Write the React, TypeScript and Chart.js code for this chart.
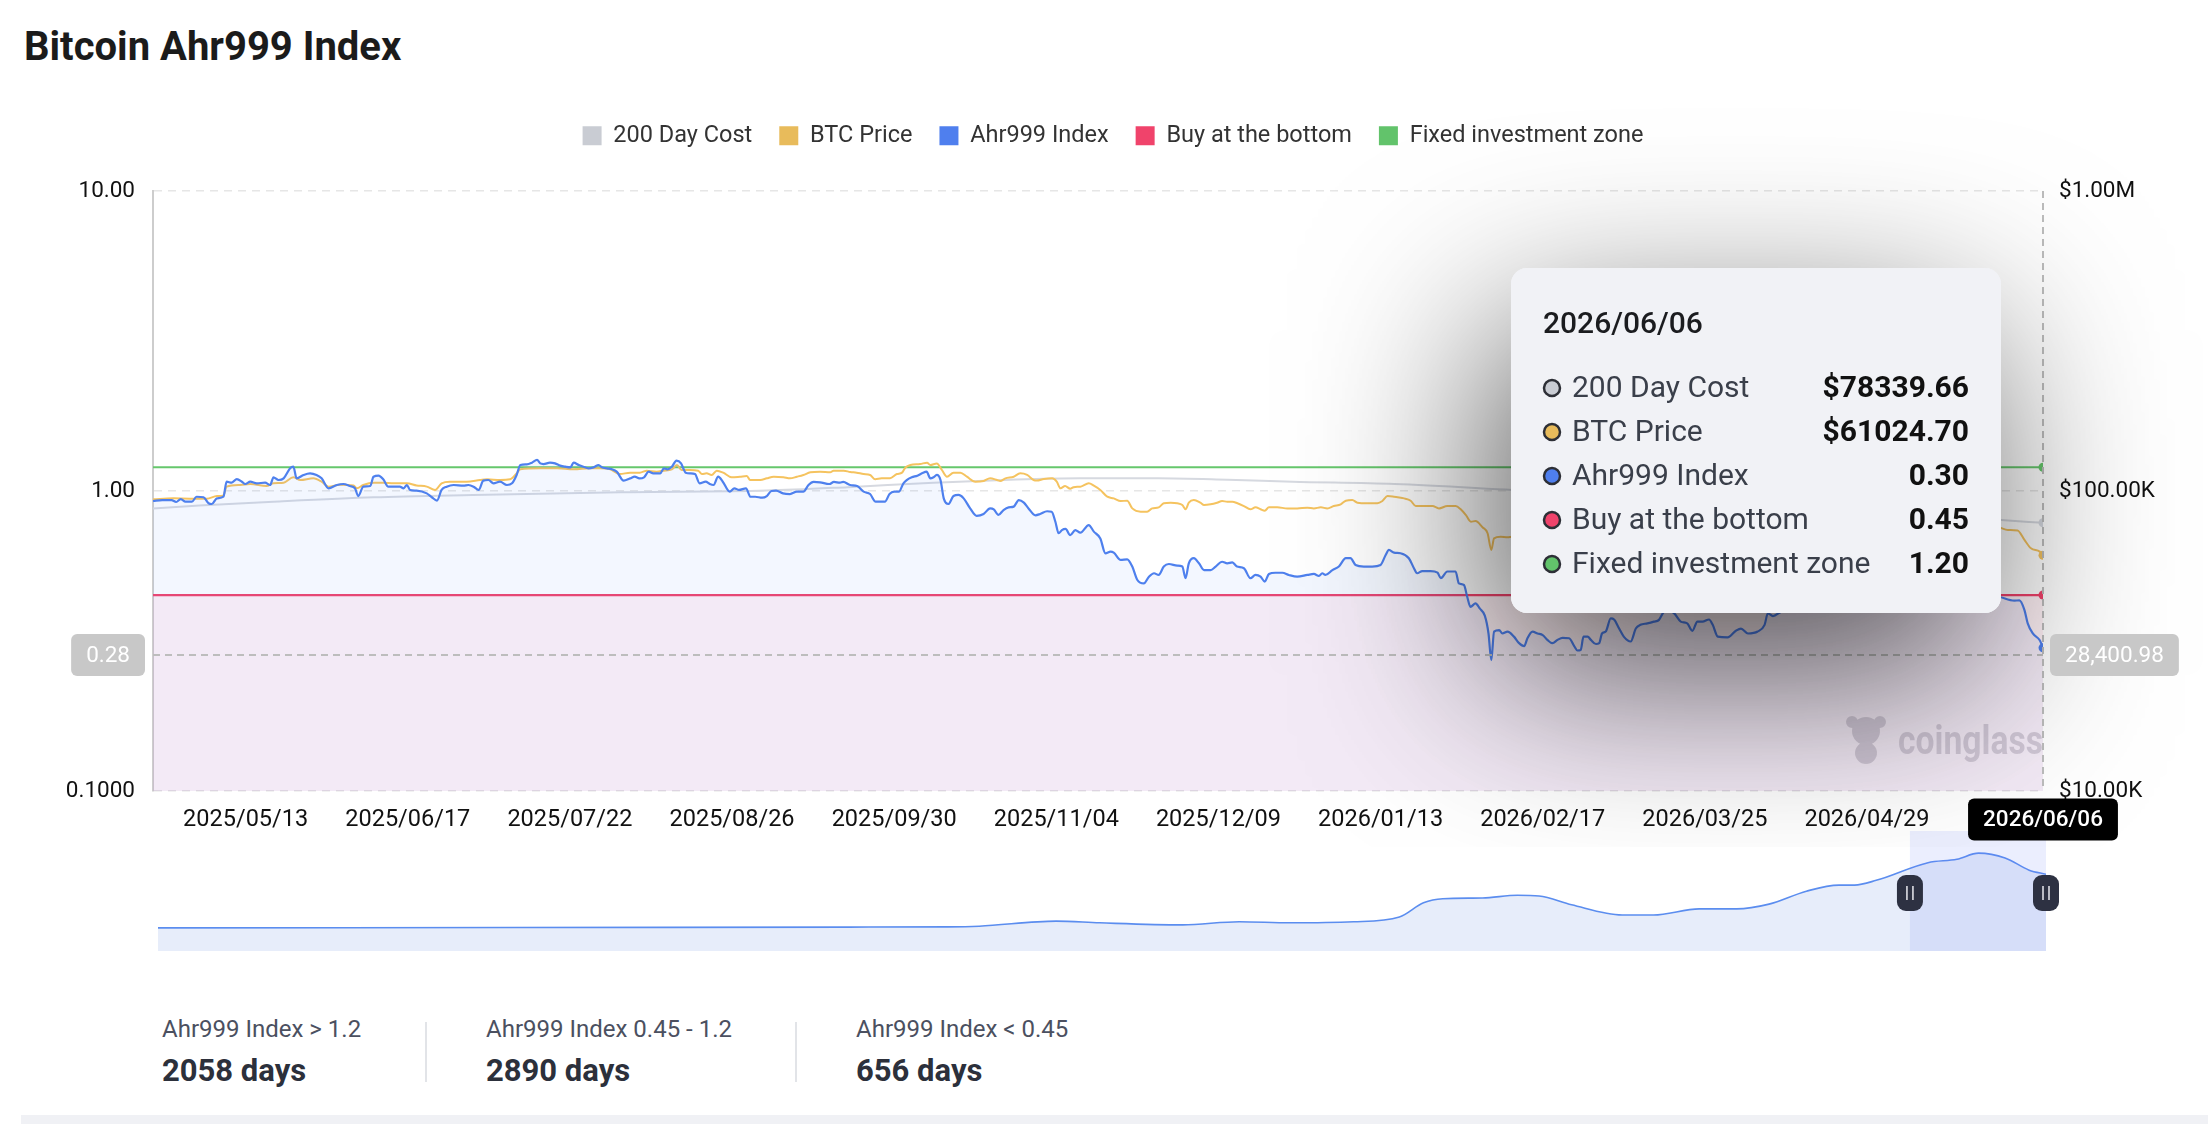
import React, { useEffect, useRef } from 'react';
import { Chart, registerables } from 'chart.js';

Chart.register(...registerables);

const FONT = 'Roboto, "Noto Sans", "DejaVu Sans", sans-serif';

const TITLE = 'Bitcoin Ahr999 Index';
const SERIES_NAMES = ['200 Day Cost', 'BTC Price', 'Ahr999 Index', 'Buy at the bottom', 'Fixed investment zone'];
const SERIES_COLORS = ['#c9ccd3', '#e8bb5b', '#4f7fee', '#f0436b', '#62c36b'];
const LINE_COLORS = ['#d6d9e0', '#f5c35f', '#4e80ee', '#f2426b', '#66c76c'];

// x values are day offsets from 2025/04/23
const LAST_DAY = 408;
const LAST_DATE = '2026/06/06';
const X_TICK_DAYS = [20, 55, 90, 125, 160, 195, 230, 265, 300, 335, 370];
const X_TICK_LABELS = ['2025/05/13', '2025/06/17', '2025/07/22', '2025/08/26', '2025/09/30', '2025/11/04', '2025/12/09', '2026/01/13', '2026/02/17', '2026/03/25', '2026/04/29'];
const LEFT_TICKS = [0.1, 1, 10];
const LEFT_TICK_LABELS = ['0.1000', '1.00', '10.00'];
const RIGHT_TICKS = [10000, 100000, 1000000];
const RIGHT_TICK_LABELS = ['$10.00K', '$100.00K', '$1.00M'];

const LEVEL_DAYS = [0, 408];
const BUY_LEVEL = [0.45, 0.45];
const FIXED_LEVEL = [1.2, 1.2];

const CROSS_VALUE = 0.2840098;
const WATERMARK = 'coinglass';

const AHR_POINTS: [number, number][] = [
  [0, 0.926], [2, 0.933], [4, 0.933], [5, 0.919], [6, 0.94], [7, 0.921], [8.4, 0.921], [9.4, 0.957], [10.9, 0.953], [12, 0.91],
  [12.7, 0.905], [13.8, 0.945], [15.2, 0.957], [15.9, 1.074], [17, 1.066], [18.1, 1.096], [19.2, 1.074], [19.9, 1.055], [21, 1.074], [22.4, 1.061],
  [24.2, 1.066], [25.3, 1.047], [26, 1.111], [27.1, 1.088], [28.2, 1.102], [29.6, 1.19], [30.3, 1.205], [31, 1.102], [32.5, 1.131], [33.9, 1.145],
  [35.3, 1.131], [36.4, 1.102], [37.9, 1.021], [39.7, 1.047], [41.1, 1.055], [42.5, 1.039], [43.6, 1.021], [44.3, 0.962], [45.4, 1.034], [46.9, 1.039],
  [47.6, 1.116], [48.7, 1.125], [49.7, 1.094], [50.8, 1.034], [51.9, 1.034], [53.3, 1.034], [54.1, 1.021], [54.8, 1.047], [55.5, 1.008], [56.9, 1.003],
  [59.1, 0.982], [60.2, 0.953], [61.3, 0.929], [62.3, 1.008], [63.4, 1.034], [64.9, 1.047], [67, 1.042], [68.1, 1.047], [69.2, 1.034], [70.3, 1.008],
  [71.3, 1.083], [72.4, 1.088], [73.5, 1.061], [74.9, 1.074], [76.4, 1.047], [77.5, 1.061], [78.5, 1.131], [79.3, 1.221], [80.7, 1.227], [81.8, 1.243],
  [82.9, 1.269], [83.6, 1.236], [84.3, 1.23], [85.7, 1.243], [86.8, 1.236], [87.9, 1.215], [89, 1.205], [90.1, 1.199], [90.8, 1.243], [91.9, 1.221],
  [92.9, 1.205], [94, 1.19], [95.1, 1.199], [96.2, 1.221], [96.9, 1.199], [98, 1.19], [99.1, 1.181], [100.1, 1.16], [101.6, 1.083], [103, 1.102],
  [104, 1.116], [105, 1.102], [106, 1.111], [107, 1.16], [108, 1.145], [109.5, 1.145], [110.3, 1.19], [111, 1.181], [112, 1.205], [113, 1.262],
  [114, 1.236], [115, 1.151], [116, 1.145], [117, 1.139], [118, 1.061], [119.3, 1.074], [120.2, 1.055], [121, 1.047], [122, 1.116], [123, 1.074],
  [124.5, 0.995], [125.5, 1.021], [126.5, 1.008], [128, 1.021], [129, 0.957], [130, 0.957], [131.5, 0.95], [132.5, 0.962], [133.5, 1.0], [134.5, 1.003],
  [136, 0.982], [137.5, 0.977], [139, 0.995], [140.4, 0.995], [141.5, 1.047], [142.6, 1.072], [144, 1.069], [146, 1.055], [147, 1.072], [148.3, 1.066],
  [149, 1.072], [150.5, 1.047], [152, 1.039], [153.4, 0.995], [154.8, 0.977], [156, 0.921], [157, 0.921], [158, 0.921], [159, 0.977], [160, 0.995],
  [161, 0.995], [162, 1.061], [162.7, 1.088], [163.8, 1.111], [165, 1.125], [166, 1.145], [167, 1.16], [167.8, 1.102], [168.5, 1.111], [169.2, 1.131],
  [170, 1.088], [170.7, 0.945], [171.7, 0.905], [172.8, 0.962], [173.9, 0.97], [175, 0.945], [176.4, 0.875], [177.8, 0.826], [179.3, 0.838], [180.7, 0.875],
  [181.5, 0.869], [182.5, 0.832], [183.6, 0.864], [184.7, 0.882], [185.8, 0.887], [186.9, 0.933], [188, 0.915], [189, 0.875], [190.5, 0.83], [191.5, 0.838],
  [193, 0.856], [194, 0.853], [194.8, 0.79], [195.5, 0.723], [196.2, 0.741], [197, 0.748], [198, 0.713], [199.1, 0.741], [200.2, 0.726], [202, 0.77],
  [203.1, 0.732], [204.5, 0.695], [205.6, 0.62], [206.7, 0.628], [207.4, 0.623], [208.9, 0.589], [210.3, 0.592], [211.4, 0.56], [212.5, 0.505], [213.9, 0.492],
  [215, 0.518], [216.1, 0.532], [217.1, 0.525], [218.2, 0.56], [219.3, 0.571], [221.1, 0.564], [222.2, 0.56], [222.9, 0.512], [223.6, 0.574], [224.7, 0.597],
  [225.8, 0.574], [226.9, 0.545], [228.3, 0.545], [229.4, 0.56], [230.8, 0.581], [231.9, 0.574], [233, 0.578], [234, 0.56], [235.5, 0.553], [236.9, 0.512],
  [238, 0.525], [239.1, 0.518], [240, 0.499], [240.9, 0.529], [242.3, 0.534], [243.8, 0.534], [245.2, 0.525], [247, 0.518], [249.2, 0.525], [250.6, 0.529],
  [251.7, 0.521], [252.4, 0.532], [253.1, 0.525], [254.6, 0.545], [256, 0.56], [257.5, 0.597], [258.5, 0.597], [259.6, 0.567], [261.4, 0.56], [263.2, 0.56],
  [265, 0.567], [266.1, 0.612], [266.8, 0.636], [267.9, 0.623], [269.3, 0.62], [271.1, 0.597], [272.2, 0.553], [272.9, 0.532], [274, 0.541], [275.8, 0.541],
  [277.3, 0.534], [278, 0.512], [279.4, 0.539], [281.2, 0.539], [281.9, 0.492], [283, 0.486], [283.7, 0.444], [284.4, 0.411], [285.5, 0.422], [286.4, 0.406],
  [287.5, 0.384], [288.3, 0.335], [288.9, 0.273], [289.5, 0.34], [290.6, 0.344], [291.3, 0.335], [292.4, 0.34], [293.8, 0.327], [294.9, 0.311], [296, 0.304],
  [296.7, 0.323], [297.8, 0.34], [298.9, 0.335], [300, 0.331], [301, 0.319], [302.1, 0.311], [303.2, 0.319], [304.3, 0.324], [305.7, 0.323], [306.8, 0.304],
  [307.5, 0.294], [308.2, 0.295], [308.8, 0.327], [309.7, 0.327], [310.4, 0.319], [311.5, 0.309], [312.2, 0.311], [312.8, 0.335], [313.6, 0.34], [314.7, 0.376],
  [315.4, 0.373], [316.5, 0.348], [317.5, 0.327], [319, 0.315], [320.1, 0.348], [321.1, 0.358], [322.6, 0.362], [324, 0.367], [325.1, 0.372], [326.2, 0.396],
  [327.3, 0.4], [328.4, 0.391], [329.8, 0.367], [331.2, 0.362], [332.3, 0.342], [333.4, 0.367], [334.5, 0.367], [335.9, 0.373], [336.7, 0.358], [337.8, 0.327],
  [339.9, 0.325], [341.7, 0.342], [342.8, 0.348], [344.3, 0.335], [346.4, 0.34], [347.9, 0.358], [348.6, 0.391], [349.7, 0.383], [351.5, 0.396], [355, 0.41],
  [358, 0.43], [361, 0.42], [364, 0.44], [367, 0.43], [370, 0.45], [373, 0.47], [376, 0.46], [379, 0.48], [382, 0.47], [385, 0.49],
  [388, 0.47], [391, 0.46], [394, 0.47], [396, 0.45], [398.5, 0.444], [401.8, 0.431], [402.9, 0.432], [404, 0.401], [404.7, 0.362], [405.8, 0.335],
  [407.3, 0.318], [408, 0.30],
];

const BTC_POINTS: [number, number][] = [
  [0, 93800], [4.4, 94500], [8, 94300], [11.6, 94300], [13.8, 96200], [15.2, 96700], [15.9, 103400], [18.8, 104700], [21, 105500], [24.5, 103900],
  [26, 106100], [28.2, 106600], [30.3, 111100], [31.8, 108800], [34.6, 110200], [36.4, 107400], [37.9, 103400], [40.4, 105000], [43.3, 104400], [44, 102100],
  [45.4, 104700], [47.6, 106600], [49.7, 106600], [51.9, 106100], [54.8, 106100], [56.9, 104400], [59.1, 103400], [60.9, 100800], [62.3, 106100], [64.1, 107400],
  [67.7, 107400], [70.6, 108800], [72.1, 109400], [74.9, 108800], [77.1, 109400], [78.5, 114500], [79.3, 118100], [83.6, 119000], [87.2, 119000], [90.8, 118100],
  [94.4, 119000], [96.5, 119000], [98.7, 118100], [100.8, 113900], [103, 115100], [105.1, 115100], [106.6, 116900], [108.7, 116000], [110.2, 116900], [112, 118100],
  [113.1, 122100], [114.1, 117500], [115.9, 117500], [117.7, 116900], [118.5, 113900], [119.5, 114500], [120.6, 113100], [121.7, 116900], [123.1, 115100], [124.9, 111100],
  [126.7, 111600], [128.2, 112200], [128.9, 108800], [131.1, 108800], [132.5, 110200], [134, 111600], [136.1, 111100], [137.5, 110200], [139, 111600], [140.4, 113100],
  [141.9, 115400], [144, 116000], [146.2, 115400], [146.9, 116900], [149.1, 116900], [150.5, 115700], [151.9, 115100], [153.4, 113900], [154.8, 113100], [155.9, 109400],
  [157.3, 110200], [159.1, 110200], [160.6, 113900], [161.7, 115100], [162.4, 119600], [163.5, 122100], [165.6, 123000], [167.1, 124300], [167.8, 122100], [169.2, 123600],
  [170.3, 117500], [171.4, 111600], [172.8, 115100], [174.3, 115100], [175.7, 111600], [177.5, 107400], [179.3, 108000], [180.7, 110200], [182.2, 108800], [182.9, 108000],
  [184, 110200], [185.8, 111600], [187.2, 114500], [188.7, 113100], [190.1, 108800], [190.8, 108300], [192.3, 109600], [194.1, 110200], [195.1, 107400], [195.9, 102100],
  [196.9, 103900], [198, 101800], [198.7, 102900], [199.5, 103400], [200.2, 103400], [202, 106100], [203.1, 104200], [204.5, 100800], [206, 95700], [207.4, 94500],
  [208.9, 92600], [210.3, 92800], [211.4, 87500], [213.2, 85300], [214.6, 85300], [215.7, 87500], [217.1, 88200], [218.2, 91000], [219.7, 91400], [221.1, 91000],
  [222.2, 89800], [222.9, 86900], [223.6, 91400], [224.7, 93300], [226.1, 91400], [226.9, 89800], [228.3, 90300], [229.7, 91400], [230.8, 92600], [231.9, 92100],
  [233, 92100], [234.1, 91000], [235.5, 89100], [236.9, 86900], [238, 88200], [239.1, 86900], [240, 86000], [240.9, 88200], [242.7, 88200], [244.9, 87500],
  [247, 87500], [249.2, 88000], [250.6, 87500], [252.1, 88200], [253.5, 87500], [254.9, 89100], [256.4, 90300], [257.5, 92800], [258.9, 93300], [260, 91400],
  [262.1, 91000], [264.3, 91000], [265.4, 92600], [266.5, 96200], [267.9, 95700], [270.1, 94500], [271.5, 92800], [272.6, 89100], [274.4, 89100], [276.2, 89100],
  [277.6, 87500], [279.4, 89100], [281.2, 89100], [282.3, 86900], [283.4, 83200], [284.5, 79000], [285.5, 79400], [287, 75700], [288.1, 72300], [288.9, 63600],
  [289.5, 69500], [290.9, 70400], [292.4, 70100], [293.5, 70400], [297, 69000], [300, 71400], [304, 70500], [308, 68000], [312, 70000], [315, 75000],
  [319, 68400], [325, 73800], [328, 75500], [333, 70200], [338, 68300], [343, 70100], [349, 73600], [355, 74900], [360, 76300], [365, 74900],
  [370, 77300], [375, 78400], [380, 77000], [385, 78200], [390, 76900], [395, 75700], [398.2, 75700], [400.4, 74100], [402.5, 73900], [404, 68700],
  [405.4, 64400], [407.3, 62800], [408, 61024.70],
];

const COST_POINTS: [number, number][] = [
  [0, 87500], [10, 89400], [26, 92100], [47.6, 95300], [69, 97000], [101, 99000], [132.5, 100300], [150, 103000], [168.5, 106600], [185, 109000],
  [200, 110200], [217, 110200], [232, 109000], [246, 107400], [268, 105500], [293.5, 100800], [320, 96000], [350, 90000], [380, 84000], [399, 80000],
  [408, 78339.66],
];

// navigator (full history, x = year, y = BTC price in $K)
const NAV_POINTS: [number, number][] = [
  [2010.76, 0.1], [2013.72, 0.5], [2016.5, 1.2], [2017.32, 1.5], [2017.58, 2.5], [2018.22, 10], [2018.58, 7.5], [2019.27, 4.5], [2019.74, 9], [2020.16, 7.5],
  [2020.69, 9], [2021.07, 16], [2021.27, 37], [2021.43, 43], [2021.76, 44], [2022.05, 48], [2022.23, 47], [2022.5, 34], [2022.92, 19], [2023.18, 19],
  [2023.56, 28], [2023.87, 28], [2024.14, 35], [2024.45, 54], [2024.72, 63], [2024.85, 63], [2025.03, 70], [2025.46, 96], [2025.7, 101], [2025.88, 110],
  [2026.1, 103], [2026.3, 85], [2026.44, 79],
];
const NAV_WINDOW = [2025.31, 2026.44];

const STAT_LABELS = ['Ahr999 Index > 1.2', 'Ahr999 Index 0.45 - 1.2', 'Ahr999 Index < 0.45'];
const STAT_DAYS = [2058, 2890, 656];

const toXY = (pts: [number, number][]) => pts.map(([x, y]) => ({ x, y }));

function lastDot(n: number) {
  return (ctx: any) => (ctx.dataIndex === n - 1 ? 4.5 : 0);
}

const legendSpacer = {
  id: 'legendSpacer',
  beforeInit(chart: any) {
    const orig = chart.legend.fit;
    chart.legend.fit = function fit() {
      orig.call(this);
      this.height += 33.5;
    };
  },
};

const overlayPlugin = {
  id: 'ahrOverlay',
  beforeDatasetsDraw(chart: any) {
    const { ctx, chartArea: a } = chart;
    ctx.save();
    ctx.fillStyle = 'rgba(120,120,125,0.30)';
    ctx.font = `700 40px ${FONT}`;
    ctx.textAlign = 'right';
    ctx.textBaseline = 'middle';
    ctx.fillText(WATERMARK, a.right, a.bottom - 47, 145);
    const cx = a.right - 177;
    const cy = a.bottom - 60;
    ctx.beginPath();
    const circ = (x: number, y: number, r: number) => {
      ctx.moveTo(x + r, y);
      ctx.arc(x, y, r, 0, Math.PI * 2);
    };
    circ(cx, cy, 14);
    circ(cx - 14, cy - 9, 6);
    circ(cx + 14, cy - 9, 6);
    circ(cx, cy + 22, 11);
    ctx.fill();
    ctx.restore();
  },
  afterDatasetsDraw(chart: any) {
    const { ctx, chartArea: a, scales } = chart;
    const x = scales.x.getPixelForValue(LAST_DAY);
    const y = scales.y.getPixelForValue(CROSS_VALUE);
    ctx.save();
    ctx.strokeStyle = '#bdbdbd';
    ctx.lineWidth = 2;
    ctx.setLineDash([7, 5]);
    ctx.beginPath();
    ctx.moveTo(x, a.top);
    ctx.lineTo(x, a.bottom);
    ctx.stroke();
    ctx.beginPath();
    ctx.moveTo(a.left, y);
    ctx.lineTo(x, y);
    ctx.stroke();
    ctx.restore();
  },
  afterDraw(chart: any) {
    const { ctx, chartArea: a, scales } = chart;
    const x = scales.x.getPixelForValue(LAST_DAY);
    const y = scales.y.getPixelForValue(CROSS_VALUE);

    // tooltip
    const boxW = 490;
    const boxH = 345;
    const bx = x - 42 - boxW;
    const by = a.top + 77;
    ctx.save();
    ctx.shadowColor = 'rgba(0,0,0,0.66)';
    ctx.shadowBlur = 185;
    ctx.shadowOffsetX = -20;
    ctx.shadowOffsetY = 62;
    ctx.fillStyle = '#f1f2f6';
    ctx.beginPath();
    ctx.roundRect(bx, by, boxW, boxH, 16);
    ctx.fill();
    ctx.restore();
    ctx.save();
    ctx.fillStyle = '#f1f2f6';
    ctx.beginPath();
    ctx.roundRect(bx, by, boxW, boxH, 16);
    ctx.fill();
    ctx.textBaseline = 'middle';
    ctx.textAlign = 'left';
    ctx.fillStyle = '#1b1c1f';
    ctx.font = `500 30px ${FONT}`;
    ctx.fillText(LAST_DATE, bx + 32, by + 57);
    const ds = chart.data.datasets;
    ds.forEach((d: any, i: number) => {
      const v = d.data[d.data.length - 1].y;
      const text = i < 2 ? '$' + v.toFixed(2) : v.toFixed(2);
      const ry = by + 120 + i * 44;
      ctx.beginPath();
      ctx.arc(bx + 41, ry, 8, 0, Math.PI * 2);
      ctx.fillStyle = SERIES_COLORS[i];
      ctx.fill();
      ctx.lineWidth = 2.5;
      ctx.strokeStyle = '#2d2f36';
      ctx.stroke();
      ctx.textAlign = 'left';
      ctx.fillStyle = '#3a3f4a';
      ctx.font = `400 30px ${FONT}`;
      ctx.fillText(d.label, bx + 61, ry + 1);
      ctx.textAlign = 'right';
      ctx.fillStyle = '#111';
      ctx.font = `700 30px ${FONT}`;
      ctx.fillText(text, bx + boxW - 32, ry + 1);
    });
    ctx.restore();

    // crosshair badges
    const badge = (text: string, anchor: 'left' | 'right' | 'center', ax: number, cy: number, bg: string, weight: number) => {
      ctx.save();
      ctx.font = `${weight} 22.5px ${FONT}`;
      const w = ctx.measureText(text).width + 30;
      const h = 42;
      const left = anchor === 'left' ? ax : anchor === 'right' ? ax - w : ax - w / 2;
      ctx.fillStyle = bg;
      ctx.beginPath();
      ctx.roundRect(left, cy - h / 2, w, h, 6);
      ctx.fill();
      ctx.fillStyle = '#fff';
      ctx.textAlign = 'center';
      ctx.textBaseline = 'middle';
      ctx.fillText(text, left + w / 2, cy + 1);
      ctx.restore();
    };
    const rightVal = scales.y2.getValueForPixel(y);
    badge(CROSS_VALUE.toFixed(2), 'right', a.left - 8, y, '#c8c8c8', 400);
    badge(rightVal.toLocaleString('en-US', { minimumFractionDigits: 2, maximumFractionDigits: 2 }), 'left', a.right + 7, y, '#c8c8c8', 400);
    badge(LAST_DATE, 'center', x, a.bottom + 28.5, '#000', 500);
  },
};

const navPlugin = {
  id: 'navWindow',
  afterDatasetsDraw(chart: any) {
    const { ctx, chartArea: a, scales } = chart;
    const x1 = scales.x.getPixelForValue(NAV_WINDOW[0]);
    const x2 = scales.x.getPixelForValue(NAV_WINDOW[1]);
    ctx.save();
    ctx.fillStyle = 'rgba(100,125,245,0.13)';
    ctx.fillRect(x1, a.top, x2 - x1, a.bottom - a.top);
    const cy = a.top + 62;
    [x1, x2].forEach((hx) => {
      ctx.fillStyle = '#2d3142';
      ctx.beginPath();
      ctx.roundRect(hx - 13, cy - 18, 26, 36, 9);
      ctx.fill();
      ctx.strokeStyle = '#e8e8ee';
      ctx.lineWidth = 1.5;
      ctx.beginPath();
      ctx.moveTo(hx - 3, cy - 7);
      ctx.lineTo(hx - 3, cy + 7);
      ctx.moveTo(hx + 3, cy - 7);
      ctx.lineTo(hx + 3, cy + 7);
      ctx.stroke();
    });
    ctx.restore();
  },
};

export default function App() {
  const mainRef = useRef<HTMLCanvasElement>(null);
  const navRef = useRef<HTMLCanvasElement>(null);

  useEffect(() => {
    Chart.defaults.font.family = FONT;
    Chart.defaults.color = '#111';

    const levelData = (vals: number[]) => LEVEL_DAYS.map((d, i) => ({ x: d, y: vals[i] }));

    const main = new Chart(mainRef.current as HTMLCanvasElement, {
      type: 'line',
      data: {
        datasets: [
          {
            label: SERIES_NAMES[0], data: toXY(COST_POINTS), yAxisID: 'y2', borderColor: LINE_COLORS[0], borderWidth: 2,
            pointRadius: lastDot(COST_POINTS.length), pointBackgroundColor: LINE_COLORS[0], pointBorderWidth: 0,
            cubicInterpolationMode: 'monotone', fill: false, order: 3,
          },
          {
            label: SERIES_NAMES[1], data: toXY(BTC_POINTS), yAxisID: 'y2', borderColor: LINE_COLORS[1], borderWidth: 2,
            pointRadius: lastDot(BTC_POINTS.length), pointBackgroundColor: LINE_COLORS[1], pointBorderWidth: 0,
            cubicInterpolationMode: 'monotone', fill: false, order: 2,
          },
          {
            label: SERIES_NAMES[2], data: toXY(AHR_POINTS), yAxisID: 'y', borderColor: LINE_COLORS[2], borderWidth: 2.2,
            backgroundColor: 'rgba(91,143,249,0.07)', fill: 'start',
            pointRadius: lastDot(AHR_POINTS.length), pointBackgroundColor: LINE_COLORS[2], pointBorderWidth: 0,
            cubicInterpolationMode: 'monotone', order: 1,
          },
          {
            label: SERIES_NAMES[3], data: levelData(BUY_LEVEL), yAxisID: 'y', borderColor: LINE_COLORS[3], borderWidth: 2.2,
            backgroundColor: 'rgba(255,120,170,0.10)', fill: 'start',
            pointRadius: lastDot(2), pointBackgroundColor: LINE_COLORS[3], pointBorderWidth: 0, order: 4,
          },
          {
            label: SERIES_NAMES[4], data: levelData(FIXED_LEVEL), yAxisID: 'y', borderColor: LINE_COLORS[4], borderWidth: 2.2,
            fill: false, pointRadius: lastDot(2), pointBackgroundColor: LINE_COLORS[4], pointBorderWidth: 0, order: 5,
          },
        ],
      } as any,
      options: {
        responsive: false,
        animation: false,
        events: [],
        layout: { padding: { left: 18, right: 0, top: 0, bottom: 0 } },
        plugins: {
          legend: {
            display: true,
            position: 'top',
            align: 'center',
            labels: {
              boxWidth: 19,
              boxHeight: 19,
              padding: 27,
              color: '#333',
              font: { size: 23.5, family: FONT },
              generateLabels: (chart: any) => {
                const items = (Chart.defaults.plugins.legend.labels as any).generateLabels(chart);
                return items
                  .sort((p: any, q: any) => p.datasetIndex - q.datasetIndex)
                  .map((it: any) => ({
                    ...it,
                    fillStyle: SERIES_COLORS[it.datasetIndex],
                    strokeStyle: SERIES_COLORS[it.datasetIndex],
                    lineWidth: 0,
                  }));
              },
            },
          },
          tooltip: { enabled: false },
        },
        scales: {
          x: {
            type: 'linear',
            min: 0,
            max: LAST_DAY,
            grid: { display: false, drawTicks: false },
            border: { display: false },
            afterBuildTicks: (s: any) => { s.ticks = X_TICK_DAYS.map((v) => ({ value: v })); },
            afterFit: (s: any) => { s.height = 56; },
            ticks: {
              autoSkip: false, maxRotation: 0, minRotation: 0, padding: 15, color: '#111',
              font: { size: 23.5 },
              callback: (v: any) => { const i = X_TICK_DAYS.indexOf(v); return i >= 0 ? X_TICK_LABELS[i] : ''; },
            },
          },
          y: {
            type: 'logarithmic',
            position: 'left',
            min: 0.1,
            max: 10,
            afterBuildTicks: (s: any) => { s.ticks = LEFT_TICKS.map((v) => ({ value: v })); },
            afterFit: (s: any) => { s.width = 135; },
            grid: { color: '#e6e6e6', lineWidth: 1.5, drawTicks: false },
            border: { display: true, color: '#cdcdcd', width: 2, dash: [8, 6] },
            ticks: {
              padding: 18, color: '#111', font: { size: 22.5 },
              callback: (v: any) => { const i = LEFT_TICKS.indexOf(v); return i >= 0 ? LEFT_TICK_LABELS[i] : ''; },
            },
          },
          y2: {
            type: 'logarithmic',
            position: 'right',
            min: 10000,
            max: 1000000,
            afterBuildTicks: (s: any) => { s.ticks = RIGHT_TICKS.map((v) => ({ value: v })); },
            afterFit: (s: any) => { s.width = 165; },
            grid: { display: false, drawTicks: false },
            border: { display: false },
            ticks: {
              padding: 16, color: '#111', font: { size: 22.5 },
              callback: (v: any) => { const i = RIGHT_TICKS.indexOf(v); return i >= 0 ? RIGHT_TICK_LABELS[i] : ''; },
            },
          },
        },
      } as any,
      plugins: [legendSpacer, overlayPlugin],
    });

    const nav = new Chart(navRef.current as HTMLCanvasElement, {
      type: 'line',
      data: {
        datasets: [
          {
            data: toXY(NAV_POINTS), borderColor: '#5b8def', borderWidth: 1.6, backgroundColor: '#e7edfa',
            fill: 'start', pointRadius: 0, cubicInterpolationMode: 'monotone',
          },
        ],
      } as any,
      options: {
        responsive: false,
        animation: false,
        events: [],
        layout: { padding: { left: 158, right: 162, top: 0, bottom: 0 } },
        plugins: { legend: { display: false }, tooltip: { enabled: false } },
        scales: {
          x: { type: 'linear', display: false, min: NAV_POINTS[0][0], max: NAV_POINTS[NAV_POINTS.length - 1][0] },
          y: { type: 'linear', display: false, min: -34, max: 142.6 },
        },
      } as any,
      plugins: [navPlugin],
    });

    return () => {
      main.destroy();
      nav.destroy();
    };
  }, []);

  const statX = [162, 486, 856];
  const sepX = [425, 795];

  return (
    <div style={{ position: 'absolute', left: 0, top: 0, width: 2208, height: 1124, background: '#fff', fontFamily: FONT, overflow: 'hidden' }}>
      <div style={{ position: 'absolute', left: 24, top: 27, fontSize: 40, lineHeight: '40px', fontWeight: 700, color: '#1b1b1b', whiteSpace: 'nowrap', letterSpacing: '0px' }}>
        {TITLE}
      </div>
      <canvas
        ref={navRef}
        width={2208}
        height={120}
        style={{ position: 'absolute', left: 0, top: 831, width: 2208, height: 120, zIndex: 1 }}
      />
      <canvas
        ref={mainRef}
        width={2208}
        height={750}
        style={{ position: 'absolute', left: 0, top: 97, width: 2208, height: 750, zIndex: 2 }}
      />
      {STAT_LABELS.map((label, i) => (
        <div key={label} style={{ position: 'absolute', left: statX[i], top: 1015, whiteSpace: 'nowrap' }}>
          <div style={{ fontSize: 24, lineHeight: '28px', color: '#4b5060' }}>{label}</div>
          <div style={{ fontSize: 31, lineHeight: '36px', fontWeight: 700, color: '#2c303b', marginTop: 10 }}>{STAT_DAYS[i]} days</div>
        </div>
      ))}
      {sepX.map((x) => (
        <div key={x} style={{ position: 'absolute', left: x, top: 1022, width: 1.5, height: 60, background: '#e2e4e8' }} />
      ))}
      <div style={{ position: 'absolute', left: 21, top: 1115, width: 2187, height: 9, background: '#f0f1f5' }} />
    </div>
  );
}
